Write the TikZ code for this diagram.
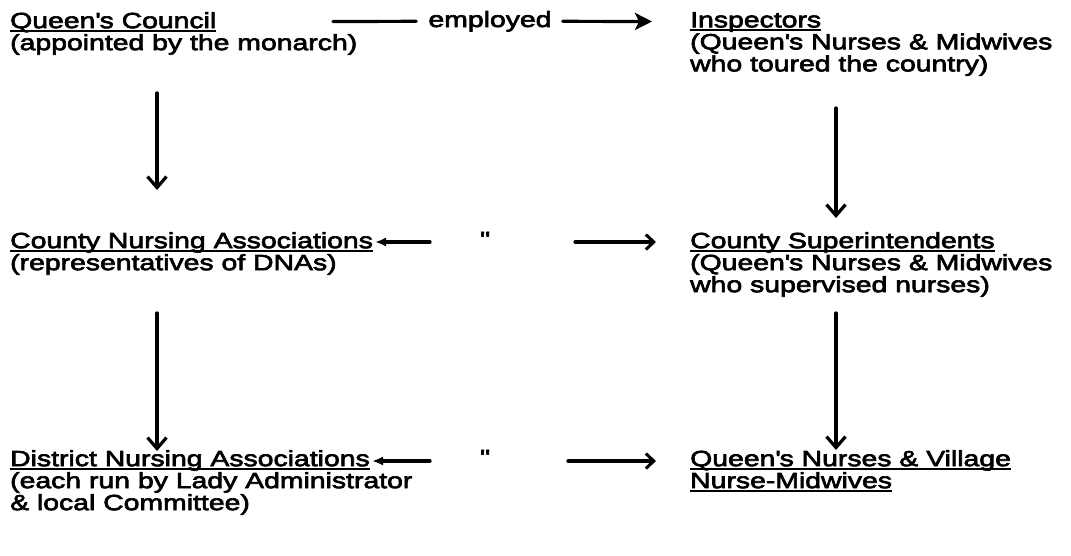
\documentclass[tikz,border=0pt]{standalone}
\usepackage{fontspec}
\setmainfont{Liberation Sans}[FakeStretch=1.29,FakeBold=3.0]
\usetikzlibrary{arrows.meta}
\newcommand\ulx[1]{\setbox0\hbox{#1}\rlap{\rule[-3.4pt]{\wd0}{1.7pt}}\box0}
\newcommand\ap{\textquotesingle}
\tikzset{
  txt/.style={inner sep=0pt, font=\fontsize{22}{22}\selectfont},
  blk/.style={txt, anchor=north west, align=left},
  link/.style={line width=3.2pt, line cap=round},
  downarr/.style={link, -{Straight Barb[length=11pt,width=19pt,line width=3.2pt]}},
  emparr/.style={link, -{Stealth[length=17pt,width=17pt,inset=4pt]}},
  openarr/.style={link, -{Straight Barb[length=8pt,width=15pt,line width=3pt]}},
  backarr/.style={link, -{Latex[length=11pt,width=9pt]}},
}
\begin{document}
\begin{tikzpicture}[x=1pt,y=-1pt]
\useasboundingbox[fill=white] (0,0) rectangle (1071,555);

% left column
\node[blk] (qc) at (10,12) {\ulx{Queen\ap s Council}\\(appointed by the monarch)};
\node[blk] (cna) at (10,232) {\ulx{County Nursing Associations}\\(representatives of DNAs)};
\node[blk] (dna) at (10,450) {\ulx{District Nursing Associations}\\(each run by Lady Administrator\\\& local Committee)};

% right column
\node[blk] (insp) at (690,12) {\ulx{Inspectors}\\(Queen\ap s Nurses \& Midwives\\who toured the country)};
\node[blk] (cs) at (690,232) {\ulx{County Superintendents}\\(Queen\ap s Nurses \& Midwives\\who supervised nurses)};
\node[blk] (qn) at (690,450) {\ulx{Queen\ap s Nurses \& Village}\\\ulx{Nurse-Midwives}};

% middle labels
\node[txt, anchor=base] (emp) at (490,27) {employed};
\node[txt, anchor=base] (d1) at (484,247) {\textquotedbl};
\node[txt, anchor=base] (d2) at (484,465) {\textquotedbl};

% free ends
\coordinate (e1) at (333,21.5);
\coordinate (e2) at (652,21.5);
\coordinate (c1) at (430,242);
\coordinate (c2) at (375,242);
\coordinate (c3) at (575,242);
\coordinate (c4) at (656,242);
\coordinate (f1) at (430,461);
\coordinate (f2) at (372,461);
\coordinate (f3) at (568,461);
\coordinate (f4) at (656,461);
\coordinate (v1) at (157,93);
\coordinate (v2) at (157,190);
\coordinate (v3) at (157,313);
\coordinate (v4) at (157,451);
\coordinate (w1) at (836,108);
\coordinate (w2) at (836,218);
\coordinate (w3) at (836,313);
\coordinate (w4) at (836,450);

% horizontal connectors
\draw[link] (e1) -- ([xshift=-12pt]emp.west);
\draw[emparr] ([xshift=11pt]emp.east) -- (e2);
\draw[backarr] (c1) -- (c2);
\draw[openarr] (c3) -- (c4);
\draw[backarr] (f1) -- (f2);
\draw[openarr] (f3) -- (f4);

% vertical connectors
\draw[downarr] (v1) -- (v2);
\draw[downarr] (v3) -- (v4);
\draw[downarr] (w1) -- (w2);
\draw[downarr] (w3) -- (w4);
\end{tikzpicture}
\end{document}
